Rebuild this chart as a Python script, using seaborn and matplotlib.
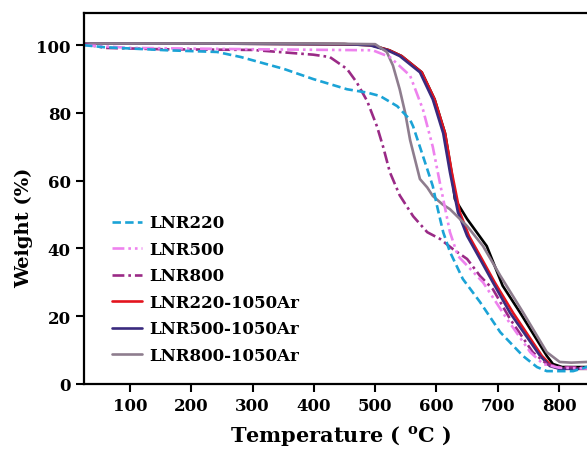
import matplotlib
matplotlib.use("Agg")
import matplotlib.pyplot as plt
import seaborn as sns

# ---- data (temperature in degC, weight in %) ----
t_lnr220 = [25, 58, 160, 242, 281, 351, 399, 454, 487, 508, 536, 557, 562, 573, 585,
            594, 601, 611, 622, 643, 671, 704, 741, 764, 780, 823, 845, 857]
w_lnr220 = [100, 99.4, 98.5, 98, 96.5, 93, 90, 87, 86, 85, 82, 78, 76, 70, 63.4,
            58.4, 52.5, 44.8, 39, 31, 24.2, 15.3, 8.3, 5, 3.8, 3.8, 5, 5]

t_lnr500 = [25, 100, 300, 496, 524, 557, 578, 594, 606, 611, 622, 635, 655, 676,
            715, 753, 774, 800, 857]
w_lnr500 = [100, 99.2, 98.8, 98.5, 96.5, 91, 81, 70, 59, 54.6, 44.8, 37.8, 34, 30,
            19.2, 9.4, 5.9, 4.8, 4.5]

t_lnr800 = [25, 60, 154, 300, 399, 426, 454, 470, 487, 503, 513, 524, 540, 562, 585,
            606, 627, 650, 671, 692, 720, 757, 780, 800, 857]
w_lnr800 = [100.3, 99.2, 98.8, 98.6, 97.2, 96.5, 93, 89, 83.5, 76, 70, 62.5, 55.7,
            49.5, 44.8, 42.8, 39.8, 36.9, 31.9, 28, 19.2, 9.4, 5.9, 5, 4.8]

t_lnr500_ar = [25, 200, 450, 491, 520, 540, 573, 594, 611, 622, 635, 650, 671, 692,
               720, 769, 785, 800, 857]
w_lnr500_ar = [100.5, 100.5, 100.3, 100, 98.5, 96.8, 92, 84, 74, 62.5, 50.7, 43.7,
               36.9, 30, 21, 8.3, 5.3, 4.5, 4.5]

t_lnr220_ar = [25, 200, 450, 494, 523, 543, 576, 597, 614, 625, 638, 653, 674, 695,
               725, 772, 788, 803, 857]
w_lnr220_ar = [100.5, 100.5, 100.3, 100, 98.5, 96.8, 92, 84, 74, 62.5, 50.7, 43.7,
               36.9, 30, 21, 8.3, 5.3, 4.5, 4.5]

t_black = [25, 200, 450, 494, 523, 543, 576, 597, 614, 625, 630, 650, 682, 708, 736,
           780, 790, 805, 857]
w_black = [100.5, 100.5, 100.3, 100, 98.5, 96.8, 92, 84, 74, 62, 54.6, 48.7, 40.7,
           29, 21.2, 8.3, 5.9, 5, 5]

t_lnr800_ar = [25, 400, 500, 519, 529, 540, 549, 557, 562, 573, 585, 594, 610, 622,
               650, 676, 704, 741, 780, 801, 820, 857]
w_lnr800_ar = [100.5, 100.5, 100.3, 98, 94, 87, 80, 72, 68.4, 60.5, 58, 55.5, 53,
               51.6, 46.6, 40.7, 32, 21.2, 9.4, 6.5, 6.3, 6.6]

x_ticks = [100, 200, 300, 400, 500, 600, 700, 800]
y_ticks = [0, 20, 40, 60, 80, 100]

sns.set_style("ticks")
plt.rcParams["font.family"] = ["DejaVu Serif"]
plt.rcParams["font.weight"] = "bold"
for key in ["text.color", "axes.labelcolor", "xtick.color", "ytick.color", "axes.edgecolor"]:
    plt.rcParams[key] = "black"

fig = plt.figure(figsize=(5.87, 4.52), dpi=100)
ax = fig.add_axes([84 / 587, 67 / 452, 510 / 587, 371 / 452])

# (x, y, color, linestyle, label) ; black curve has no legend entry
series = [
    (t_black, w_black, "#000000", "-", None),
    (t_lnr220_ar, w_lnr220_ar, "#e3141e", "-", "LNR220-1050Ar"),
    (t_lnr500_ar, w_lnr500_ar, "#3a2a7e", "-", "LNR500-1050Ar"),
    (t_lnr800_ar, w_lnr800_ar, "#8e7d8e", "-", "LNR800-1050Ar"),
    (t_lnr800, w_lnr800, "#9a2a86", (0, (4.5, 1.5, 1, 1.5)), "LNR800"),
    (t_lnr500, w_lnr500, "#ee82ee", (0, (4.5, 1.5, 1, 1.5, 1, 1.5)), "LNR500"),
    (t_lnr220, w_lnr220, "#1ba3d6", (0, (3.2, 1.6)), "LNR220"),
]

handles = {}
for xs, ys, col, ls, lab in series:
    sns.lineplot(x=xs, y=ys, color=col, linewidth=1.9, ax=ax, sort=False)
    line = ax.lines[-1]
    line.set_linestyle(ls)
    if lab:
        handles[lab] = line

order = ["LNR220", "LNR500", "LNR800", "LNR220-1050Ar", "LNR500-1050Ar", "LNR800-1050Ar"]
ax.legend([handles[k] for k in order], order, loc="upper left",
          bbox_to_anchor=(0.055, 0.457), frameon=False, borderaxespad=0, borderpad=0,
          handlelength=1.8, handletextpad=0.45, labelspacing=0.57,
          prop={"family": "DejaVu Serif", "weight": "bold", "size": 12})

ax.set_xlim(25, 857)
ax.set_ylim(0, 109.5)
ax.set_xticks(x_ticks)
ax.set_yticks(y_ticks)
ax.tick_params(direction="out", length=6, width=1.5, labelsize=12)
for lbl in ax.get_xticklabels() + ax.get_yticklabels():
    lbl.set_fontweight("bold")
for sp in ax.spines.values():
    sp.set_linewidth(1.6)

ax.set_xlabel("Temperature ( $\\mathregular{^{o}}$C )", fontsize=15, fontweight="bold")
ax.set_ylabel("Weight (%)", fontsize=14, fontweight="bold")
ax.xaxis.set_label_coords(256 / 510, -0.106)
ax.yaxis.set_label_coords(-0.10, 0.425)

fig.savefig("out.png", dpi=100)
